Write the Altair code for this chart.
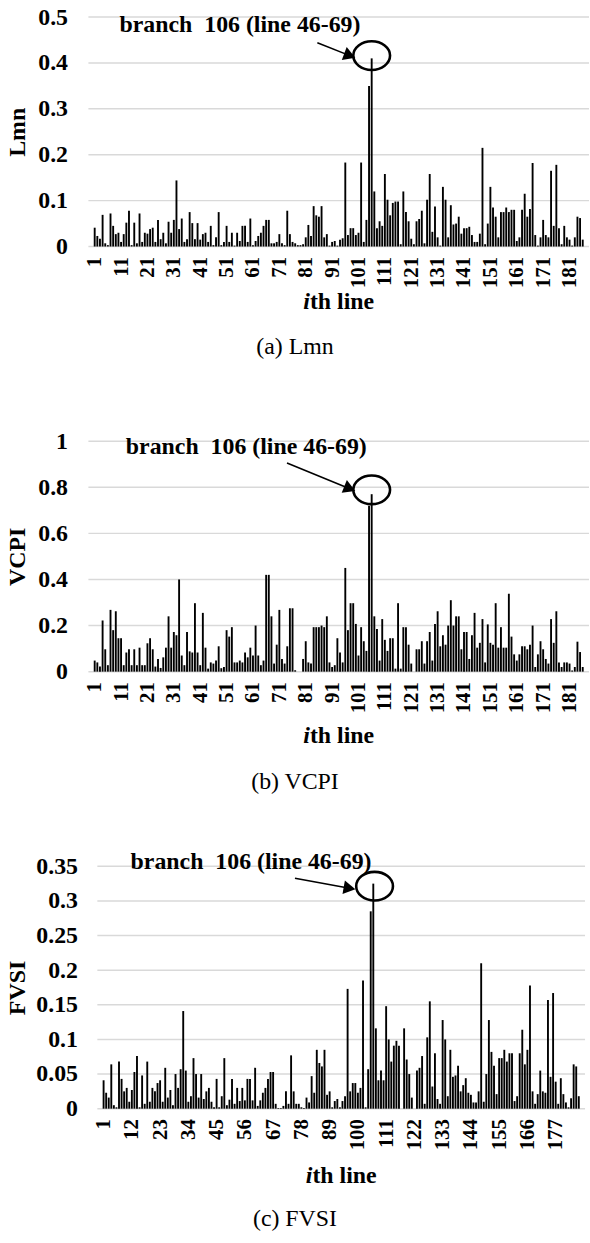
import altair as alt
import pandas as pd

LINE_IDS = list(range(1, 187))

LMN = [
    0.041, 0.023, 0.017, 0.069, 0.007, 0.003, 0.072, 0.045, 0.027, 0.030,
    0.010, 0.027, 0.052, 0.078, 0.003, 0.052, 0.007, 0.072, 0.010, 0.030,
    0.028, 0.038, 0.041, 0.010, 0.058, 0.016, 0.030, 0.007, 0.054, 0.030,
    0.058, 0.144, 0.038, 0.061, 0.010, 0.016, 0.075, 0.051, 0.016, 0.051,
    0.015, 0.027, 0.030, 0.010, 0.045, 0.003, 0.020, 0.075, 0.003, 0.010,
    0.045, 0.010, 0.030, 0.002, 0.030, 0.012, 0.045, 0.045, 0.010, 0.061,
    0.003, 0.012, 0.023, 0.030, 0.045, 0.058, 0.058, 0.007, 0.007, 0.010,
    0.027, 0.007, 0.003, 0.078, 0.027, 0.010, 0.007, 0.003, 0.003, 0.005,
    0.020, 0.047, 0.023, 0.088, 0.068, 0.065, 0.088, 0.020, 0.027, 0.002,
    0.010, 0.012, 0.002, 0.015, 0.018, 0.183, 0.025, 0.040, 0.040, 0.025,
    0.030, 0.183, 0.010, 0.058, 0.350, 0.410, 0.120, 0.040, 0.055, 0.045,
    0.158, 0.102, 0.068, 0.095, 0.098, 0.098, 0.005, 0.120, 0.075, 0.055,
    0.017, 0.005, 0.055, 0.060, 0.078, 0.007, 0.102, 0.158, 0.032, 0.087,
    0.020, 0.002, 0.130, 0.102, 0.020, 0.090, 0.048, 0.050, 0.065, 0.028,
    0.040, 0.040, 0.043, 0.025, 0.010, 0.010, 0.028, 0.215, 0.005, 0.050,
    0.130, 0.085, 0.065, 0.020, 0.075, 0.075, 0.085, 0.075, 0.080, 0.080,
    0.012, 0.020, 0.080, 0.115, 0.065, 0.082, 0.182, 0.025, 0.002, 0.020,
    0.058, 0.025, 0.020, 0.165, 0.045, 0.178, 0.040, 0.005, 0.045, 0.020,
    0.015, 0.002, 0.020, 0.065, 0.062, 0.015,
]

VCPI = [
    0.048, 0.040, 0.022, 0.222, 0.097, 0.028, 0.268, 0.180, 0.262, 0.145,
    0.145, 0.028, 0.083, 0.097, 0.028, 0.097, 0.028, 0.104, 0.028, 0.028,
    0.123, 0.145, 0.097, 0.022, 0.055, 0.016, 0.062, 0.104, 0.240, 0.104,
    0.172, 0.158, 0.400, 0.070, 0.028, 0.172, 0.088, 0.083, 0.297, 0.083,
    0.028, 0.255, 0.104, 0.013, 0.040, 0.035, 0.048, 0.110, 0.015, 0.020,
    0.180, 0.152, 0.193, 0.040, 0.040, 0.048, 0.040, 0.083, 0.062, 0.104,
    0.070, 0.200, 0.070, 0.028, 0.048, 0.420, 0.420, 0.240, 0.035, 0.117,
    0.268, 0.055, 0.035, 0.110, 0.275, 0.275, 0.006, 0.000, 0.000, 0.055,
    0.132, 0.040, 0.035, 0.193, 0.193, 0.193, 0.200, 0.193, 0.240, 0.040,
    0.020, 0.028, 0.145, 0.083, 0.040, 0.450, 0.180, 0.297, 0.297, 0.207,
    0.070, 0.193, 0.132, 0.090, 0.720, 0.770, 0.240, 0.185, 0.048, 0.228,
    0.138, 0.090, 0.145, 0.145, 0.013, 0.297, 0.013, 0.193, 0.193, 0.117,
    0.035, 0.000, 0.097, 0.097, 0.132, 0.035, 0.132, 0.172, 0.048, 0.207,
    0.262, 0.110, 0.158, 0.117, 0.200, 0.310, 0.200, 0.240, 0.240, 0.097,
    0.172, 0.172, 0.055, 0.158, 0.255, 0.104, 0.125, 0.228, 0.040, 0.205,
    0.125, 0.117, 0.297, 0.104, 0.193, 0.104, 0.104, 0.338, 0.152, 0.075,
    0.048, 0.075, 0.110, 0.110, 0.097, 0.117, 0.200, 0.020, 0.075, 0.132,
    0.097, 0.055, 0.035, 0.228, 0.125, 0.262, 0.040, 0.020, 0.040, 0.040,
    0.035, 0.005, 0.020, 0.130, 0.085, 0.020,
]

FVSI = [
    0.041, 0.023, 0.016, 0.064, 0.005, 0.002, 0.068, 0.043, 0.025, 0.030,
    0.010, 0.027, 0.053, 0.076, 0.002, 0.048, 0.007, 0.068, 0.010, 0.030,
    0.025, 0.037, 0.041, 0.010, 0.059, 0.016, 0.027, 0.005, 0.050, 0.030,
    0.057, 0.141, 0.055, 0.010, 0.018, 0.073, 0.050, 0.016, 0.050, 0.014,
    0.025, 0.030, 0.010, 0.002, 0.043, 0.002, 0.018, 0.073, 0.005, 0.013,
    0.043, 0.007, 0.030, 0.011, 0.030, 0.012, 0.043, 0.043, 0.012, 0.059,
    0.004, 0.012, 0.023, 0.030, 0.043, 0.053, 0.053, 0.007, 0.001, 0.001,
    0.004, 0.025, 0.007, 0.077, 0.025, 0.007, 0.007, 0.002, 0.001, 0.016,
    0.009, 0.047, 0.023, 0.085, 0.066, 0.061, 0.085, 0.020, 0.025, 0.002,
    0.011, 0.014, 0.002, 0.011, 0.018, 0.173, 0.025, 0.037, 0.037, 0.023,
    0.030, 0.185, 0.002, 0.057, 0.285, 0.325, 0.116, 0.041, 0.055, 0.041,
    0.148, 0.100, 0.068, 0.091, 0.098, 0.091, 0.000, 0.116, 0.071, 0.050,
    0.016, 0.000, 0.055, 0.059, 0.076, 0.007, 0.103, 0.155, 0.032, 0.080,
    0.014, 0.007, 0.128, 0.100, 0.018, 0.085, 0.046, 0.048, 0.062, 0.025,
    0.034, 0.044, 0.023, 0.020, 0.009, 0.009, 0.025, 0.210, 0.010, 0.050,
    0.128, 0.082, 0.062, 0.021, 0.073, 0.073, 0.085, 0.068, 0.080, 0.080,
    0.011, 0.018, 0.080, 0.114, 0.064, 0.085, 0.178, 0.025, 0.007, 0.021,
    0.055, 0.025, 0.023, 0.157, 0.046, 0.167, 0.039, 0.007, 0.044, 0.021,
    0.009, 0.002, 0.015, 0.064, 0.061, 0.018,
]

XTICKS_AB = list(range(1, 187, 10))
XTICKS_C = list(range(1, 187, 11))
YTICKS_A = [0, 0.1, 0.2, 0.3, 0.4, 0.5]
YTICKS_B = [0, 0.2, 0.4, 0.6, 0.8, 1]
YTICKS_C = [0, 0.05, 0.1, 0.15, 0.2, 0.25, 0.3, 0.35]

ANNOT = "branch\u00a0 106 (line 46-69)"
CAPTIONS = ["(a) Lmn", "(b) VCPI", "(c) FVSI"]
YTITLES = ["Lmn", "VCPI", "FVSI"]

FONT = "Liberation Serif"
GRID = "#d9d9d9"
ELLIPSE = "M -1 0 A 1 0.78 0 1 1 1 0 A 1 0.78 0 1 1 -1 0 Z"
FS = 24


def panel(values, ytitle, caption, yticks, ymax, xticks, W, H, xoff, lpad, tpad,
          ann, xt_dy, cap_dy):
    df = pd.DataFrame({"line": LINE_IDS, "v": values})
    xs = alt.Scale(domain=[0.5, 186.5], nice=False, zero=False, range=[xoff, W])
    ys = alt.Scale(domain=[0, ymax], nice=False)
    xaxis = alt.Axis(values=xticks, labelAngle=270, title=None, grid=False,
                     ticks=False, domain=False,
                     labelFont=FONT, labelFontSize=21, labelFontWeight="bold",
                     labelColor="black", labelPadding=10, labelOverlap=False,
                     labelFlush=False, labelBound=False)
    yaxis = alt.Axis(values=yticks, format=".2~f", title=ytitle, grid=False,
                     ticks=False, domain=False,
                     labelFont=FONT, labelFontSize=FS, labelFontWeight="bold",
                     labelColor="black", labelPadding=lpad, titleFont=FONT,
                     titleFontSize=FS, titleFontWeight="bold", titleColor="black",
                     titlePadding=tpad)

    def X(f="line:Q"):
        return alt.X(f, scale=xs, axis=xaxis)

    def Y(f="v:Q"):
        return alt.Y(f, scale=ys, axis=yaxis)

    gdf = pd.DataFrame({"v": yticks})
    grid = alt.Chart(gdf).mark_rule(color=GRID, strokeWidth=1.5).encode(
        y=Y(), x=alt.value(xoff), x2=alt.value(W))
    bars = alt.Chart(df).mark_bar(size=1.9, color="black").encode(x=X(), y=Y())
    tdf = pd.DataFrame({"line": [ann["tx"]], "v": [ann["ty"]], "t": [ANNOT]})
    text = alt.Chart(tdf).mark_text(align="left", baseline="middle", font=FONT,
                                    fontSize=FS, fontWeight="bold", color="black").encode(
        x=X(), y=Y(), text="t:N")
    rdf = pd.DataFrame({"line": [ann["ax"]], "v": [ann["ay"]],
                        "line2": [ann["hx"]], "v2": [ann["hy"]]})
    rule = alt.Chart(rdf).mark_rule(color="black", strokeWidth=1.6).encode(
        x=X(), y=Y(), x2="line2:Q", y2="v2:Q")
    hdf = pd.DataFrame({"line": [ann["hx"]], "v": [ann["hy"]]})
    head = alt.Chart(hdf).mark_point(shape="triangle-right", filled=True, size=190,
                                     angle=ann["ang"], color="black", opacity=1).encode(
        x=X(), y=Y())
    edf = pd.DataFrame({"line": [ann["ex"]], "v": [ann["ey"]]})
    ell = alt.Chart(edf).mark_point(shape=ELLIPSE, filled=False, size=1369,
                                    strokeWidth=2.6, color="black", opacity=1).encode(
        x=X(), y=Y())
    lab = pd.DataFrame({"a": [0]})
    xc = (xoff + W) / 2
    xt_i = alt.Chart(lab).mark_text(align="right", baseline="middle", font=FONT,
                                    fontSize=FS, fontWeight="bold", fontStyle="italic",
                                    color="black", text="i").encode(
        x=alt.value(xc - 29), y=alt.value(H + xt_dy))
    xt_r = alt.Chart(lab).mark_text(align="left", baseline="middle", font=FONT,
                                    fontSize=FS, fontWeight="bold", color="black",
                                    text="th line").encode(
        x=alt.value(xc - 29), y=alt.value(H + xt_dy))
    cap = alt.Chart(lab).mark_text(align="center", baseline="middle", font=FONT,
                                   fontSize=FS, fontWeight="normal", color="black",
                                   text=caption).encode(
        x=alt.value(208), y=alt.value(H + cap_dy))
    return alt.layer(grid, bars, text, rule, head, ell, xt_i, xt_r, cap).properties(
        width=W, height=H)


pa = panel(LMN, YTITLES[0], CAPTIONS[0], YTICKS_A, 0.5, XTICKS_AB, 504, 231, 0, 21, 8,
           dict(tx=10.4, ty=0.483, ax=85.4, ay=0.444, hx=97.7, hy=0.416, ang=21,
                ex=106, ey=0.416), 56, 101)
pb = panel(VCPI, YTITLES[1], CAPTIONS[1], YTICKS_B, 1.0, XTICKS_AB, 504, 232, 0, 21, 8,
           dict(tx=12.8, ty=0.974, ax=73.9, ay=0.905, hx=97.7, hy=0.794, ang=22,
                ex=106, ey=0.789), 65, 111)
pc = panel(FVSI, YTITLES[2], CAPTIONS[2], YTICKS_C, 0.35, XTICKS_C, 500, 244, 9, 11, 6,
           dict(tx=11.5, ty=0.3557, ax=75.5, ay=0.3328, hx=96.75, hy=0.3184, ang=10,
                ex=106.5, ey=0.3213), 68, 111)

chart = alt.ConcatChart(concat=[pa, pb, pc], columns=1, spacing=196,
                        bounds="flush").properties(
    padding={"left": 6, "top": 1, "right": 0, "bottom": 0},
    background="white",
).configure(font=FONT, view=alt.ViewConfig(stroke=None))

chart.save("out.html", embed_options={"renderer": "svg", "actions": False})
